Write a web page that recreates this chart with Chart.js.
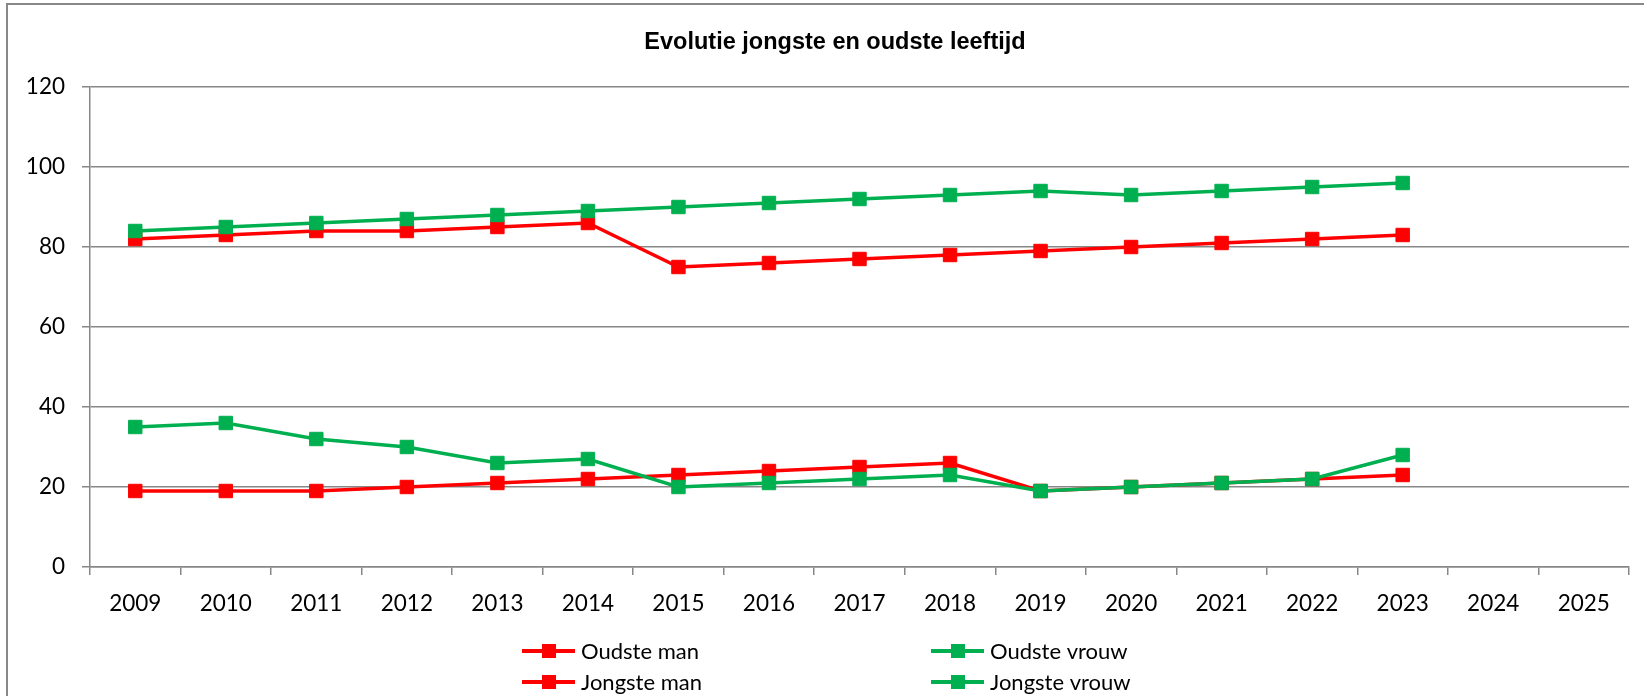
<!DOCTYPE html>
<html>
<head>
<meta charset="utf-8">
<script src="https://cdn.jsdelivr.net/npm/chart.js@4.4.1/dist/chart.umd.min.js"></script>
<style>
  html, body { margin: 0; padding: 0; background: #fff; }
  #wrap { width: 1644px; height: 696px; }
</style>
</head>
<body>
<div id="wrap"><canvas id="ageChart" width="1644" height="696"></canvas></div>
<script>
// Jaren op de x-as (2024 en 2025 nog zonder data)
const years = ['2009', '2010', '2011', '2012', '2013', '2014', '2015', '2016', '2017', '2018', '2019', '2020', '2021', '2022', '2023', '2024', '2025'];

// Leeftijden per reeks
const oudsteMan = [82, 83, 84, 84, 85, 86, 75, 76, 77, 78, 79, 80, 81, 82, 83];
const oudsteVrouw = [84, 85, 86, 87, 88, 89, 90, 91, 92, 93, 94, 93, 94, 95, 96];
const jongsteMan = [19, 19, 19, 20, 21, 22, 23, 24, 25, 26, 19, 20, 21, 22, 23];
const jongsteVrouw = [35, 36, 32, 30, 26, 27, 20, 21, 22, 23, 19, 20, 21, 22, 28];

const yTicks = [0, 20, 40, 60, 80, 100, 120];

const TITLE = 'Evolutie jongste en oudste leeftijd';
const RED = '#FF0000';
const GREEN = '#00B050';
const GRID = '#878787';
const FONT = 'Lato, "Open Sans", sans-serif';

function serie(label, data, color, order) {
    return {
        label: label,
        data: data,
        borderColor: color,
        backgroundColor: color,
        borderWidth: 3.5,
        pointStyle: 'rect',
        pointRadius: 9.5,
        pointBorderWidth: 1,
        pointBorderColor: color,
        pointBackgroundColor: color,
        tension: 0,
        order: order
    };
}

// Kader rond de grafiek + titel (zoals in Excel)
const frame = {
    id: 'frame',
    beforeDraw(chart) {
        const c = chart.ctx;
        c.save();
        c.strokeStyle = '#888';
        c.lineWidth = 2;
        c.strokeRect(7, 4, 1800, 900);
        c.fillStyle = '#000';
        c.font = 'bold 23.5px "Liberation Sans", Arial, sans-serif';
        c.textAlign = 'center';
        c.textBaseline = 'middle';
        c.fillText(TITLE, 835, 43);
        c.restore();
    }
};

// Legenda in twee kolommen met lijn + vierkantje
const legend2x2 = {
    id: 'legend2x2',
    afterDraw(chart) {
        const c = chart.ctx;
        const cols = [522, 931];
        const rows = [651, 682];
        c.save();
        c.font = '22px ' + FONT;
        c.textBaseline = 'middle';
        chart.data.datasets.forEach((ds, i) => {
            const x = cols[i % 2];
            const y = rows[Math.floor(i / 2)];
            c.strokeStyle = ds.borderColor;
            c.lineWidth = 4;
            c.beginPath();
            c.moveTo(x, y);
            c.lineTo(x + 53, y);
            c.stroke();
            c.fillStyle = ds.borderColor;
            c.fillRect(x + 20, y - 7, 14, 14);
            c.fillStyle = '#000';
            c.fillText(ds.label, x + 59, y + 1);
        });
        c.restore();
    }
};

const ctx = document.getElementById('ageChart').getContext('2d');
const ageChart = new Chart(ctx, {
    type: 'line',
    data: {
        labels: years,
        datasets: [
            serie('Oudste man', oudsteMan, RED, 4),
            serie('Oudste vrouw', oudsteVrouw, GREEN, 3),
            serie('Jongste man', jongsteMan, RED, 2),
            serie('Jongste vrouw', jongsteVrouw, GREEN, 1)
        ]
    },
    options: {
        responsive: false,
        animation: false,
        layout: { padding: { left: 7, right: 15, top: 87, bottom: 0 } },
        plugins: {
            legend: { display: false },
            tooltip: { enabled: false },
            title: { display: false }
        },
        scales: {
            x: {
                offset: true,
                grid: {
                    offset: true,
                    drawOnChartArea: false,
                    color: GRID,
                    lineWidth: 1.5,
                    tickLength: 8
                },
                border: { color: GRID, width: 1.5 },
                ticks: {
                    color: '#000',
                    font: { family: FONT, size: 22.5 },
                    padding: 15,
                    maxRotation: 0,
                    autoSkip: false
                },
                afterFit(scale) { scale.height = 129; }
            },
            y: {
                min: 0,
                max: 120,
                afterBuildTicks(scale) { scale.ticks = yTicks.map(v => ({ value: v })); },
                grid: {
                    color: GRID,
                    lineWidth: 1.5,
                    tickLength: 8
                },
                border: { color: GRID, width: 1.5 },
                ticks: {
                    color: '#000',
                    font: { family: FONT, size: 22.5 },
                    padding: 17
                },
                afterFit(scale) { scale.width = 83; }
            }
        }
    },
    plugins: [frame, legend2x2]
});
</script>
</body>
</html>
